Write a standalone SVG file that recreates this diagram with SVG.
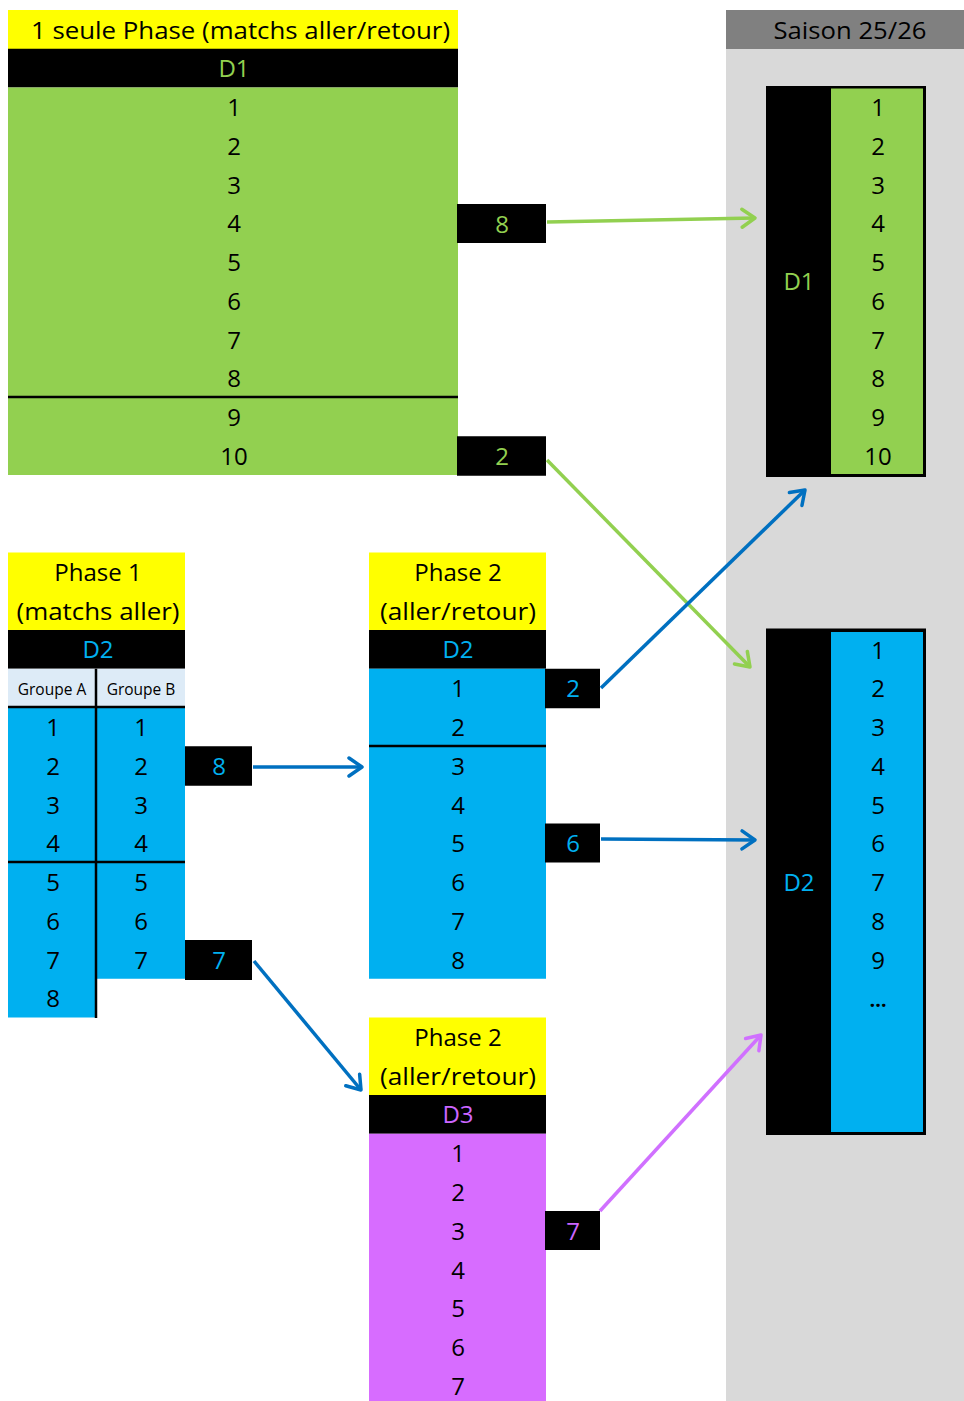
<svg xmlns="http://www.w3.org/2000/svg" width="964" height="1401" viewBox="0 0 964 1401">
<style>
text{font-family:"Open Sans","Noto Sans","Liberation Sans",sans-serif;font-size:24px;text-anchor:middle;fill:#000}
.g{fill:#92D050}.b{fill:#00B0F0}.p{fill:#D76CFF}.y{fill:#FFFF00}.k{fill:#000}
.tg{fill:#92D050}.tb{fill:#00B0F0}.tp{fill:#CC66FF}
.sep{stroke:#000;stroke-width:2.5}
.sm{font-size:15.5px}
.ag{stroke:#92D050}.ab{stroke:#0070C0}.ap{stroke:#D070FF}
.arr line{stroke-width:3.5;fill:none}
</style>
<defs>
<marker id="mg" markerUnits="userSpaceOnUse" markerWidth="30" markerHeight="30" refX="0" refY="0" orient="auto" overflow="visible"><path d="M-13,-9 L0,0 L-13,9" fill="none" stroke="#92D050" stroke-width="3.5" stroke-linecap="round" stroke-linejoin="round"/></marker>
<marker id="mb" markerUnits="userSpaceOnUse" markerWidth="30" markerHeight="30" refX="0" refY="0" orient="auto" overflow="visible"><path d="M-13,-9 L0,0 L-13,9" fill="none" stroke="#0070C0" stroke-width="3.5" stroke-linecap="round" stroke-linejoin="round"/></marker>
<marker id="mp" markerUnits="userSpaceOnUse" markerWidth="30" markerHeight="30" refX="0" refY="0" orient="auto" overflow="visible"><path d="M-13,-9 L0,0 L-13,9" fill="none" stroke="#D070FF" stroke-width="3.5" stroke-linecap="round" stroke-linejoin="round"/></marker>
</defs>
<rect width="964" height="1401" fill="#fff"/>

<!-- Saison column -->
<g id="saison">
<rect x="726" y="10" width="238" height="1391" fill="#D9D9D9"/>
<rect x="726" y="10" width="238" height="39" fill="#808080"/>
<text x="850" y="39" textLength="153" lengthAdjust="spacingAndGlyphs">Saison 25/26</text>
</g>

<!-- Top D1 table -->
<g id="d1-table">
<rect class="y" x="8" y="10" width="450" height="39"/>
<text x="31" y="39" style="text-anchor:start" textLength="419" lengthAdjust="spacingAndGlyphs">1 seule Phase (matchs aller/retour)</text>
<rect class="k" x="8" y="48.75" width="450" height="38.75"/>
<text class="tg" x="234" y="77">D1</text>
<rect class="g" x="8" y="87.5" width="450" height="387.5"/>
<line class="sep" x1="8" y1="397" x2="458" y2="397"/>
<text x="234" y="116">1</text>
<text x="234" y="154.75">2</text>
<text x="234" y="193.5">3</text>
<text x="234" y="232.25">4</text>
<text x="234" y="271">5</text>
<text x="234" y="309.75">6</text>
<text x="234" y="348.5">7</text>
<text x="234" y="387.25">8</text>
<text x="234" y="426">9</text>
<text x="234" y="464.75">10</text>
</g>
<g id="d1-box8"><rect class="k" x="457" y="204" width="89" height="39"/><text class="tg" x="502" y="232.5">8</text></g>
<g id="d1-box2"><rect class="k" x="457" y="436.25" width="89" height="39.5"/><text class="tg" x="502" y="465">2</text></g>

<!-- Right D1 -->
<g id="saison-d1">
<rect class="k" x="766" y="86" width="160" height="391"/>
<rect class="g" x="831" y="88.5" width="92" height="385.5"/>
<text class="tg" x="799" y="289.5">D1</text>
<text x="878" y="116">1</text>
<text x="878" y="154.75">2</text>
<text x="878" y="193.5">3</text>
<text x="878" y="232.25">4</text>
<text x="878" y="271">5</text>
<text x="878" y="309.75">6</text>
<text x="878" y="348.5">7</text>
<text x="878" y="387.25">8</text>
<text x="878" y="426">9</text>
<text x="878" y="464.75">10</text>
</g>

<!-- Right D2 -->
<g id="saison-d2">
<rect class="k" x="766" y="628.5" width="160" height="506.5"/>
<rect class="b" x="831" y="632" width="92" height="500"/>
<text class="tb" x="799" y="890.5">D2</text>
<text x="878" y="658.5">1</text>
<text x="878" y="697.25">2</text>
<text x="878" y="736">3</text>
<text x="878" y="774.75">4</text>
<text x="878" y="813.5">5</text>
<text x="878" y="852.25">6</text>
<text x="878" y="891">7</text>
<text x="878" y="929.75">8</text>
<text x="878" y="968.5">9</text>
<text x="878" y="1007" style="font-size:20px;font-weight:bold">…</text>
</g>

<!-- Phase 1 D2 -->
<g id="phase1">
<rect class="y" x="8" y="552.5" width="177" height="77.5"/>
<text x="98" y="580.5">Phase 1</text>
<text x="98" y="619.5" textLength="163" lengthAdjust="spacingAndGlyphs">(matchs aller)</text>
<rect class="k" x="8" y="630" width="177" height="38.75"/>
<text class="tb" x="98" y="658">D2</text>
<rect x="8" y="668.75" width="177" height="38.75" fill="#DDEBF7"/>
<text class="sm" x="52" y="695">Groupe A</text>
<text class="sm" x="141" y="695">Groupe B</text>
<rect class="b" x="8" y="707.5" width="88" height="310"/>
<rect class="b" x="96" y="707.5" width="89" height="271.25"/>
<line class="sep" x1="8" y1="707" x2="185" y2="707"/>
<line class="sep" x1="8" y1="862" x2="185" y2="862"/>
<line class="sep" x1="96" y1="668.75" x2="96" y2="1018"/>
<text x="53" y="736">1</text><text x="141" y="736">1</text>
<text x="53" y="774.75">2</text><text x="141" y="774.75">2</text>
<text x="53" y="813.5">3</text><text x="141" y="813.5">3</text>
<text x="53" y="852.25">4</text><text x="141" y="852.25">4</text>
<text x="53" y="891">5</text><text x="141" y="891">5</text>
<text x="53" y="929.75">6</text><text x="141" y="929.75">6</text>
<text x="53" y="968.5">7</text><text x="141" y="968.5">7</text>
<text x="53" y="1007.25">8</text>
</g>
<g id="p1-box8"><rect class="k" x="185" y="746.25" width="67" height="39.5"/><text class="tb" x="219" y="775">8</text></g>
<g id="p1-box7"><rect class="k" x="185" y="940" width="67" height="40"/><text class="tb" x="219" y="968.5">7</text></g>

<!-- Phase 2 D2 -->
<g id="phase2-d2">
<rect class="y" x="369" y="552.5" width="177" height="77.5"/>
<text x="458" y="580.5">Phase 2</text>
<text x="458" y="619.5" textLength="156" lengthAdjust="spacingAndGlyphs">(aller/retour)</text>
<rect class="k" x="369" y="630" width="177" height="38.75"/>
<text class="tb" x="458" y="658">D2</text>
<rect class="b" x="369" y="668.75" width="177" height="310"/>
<line class="sep" x1="369" y1="746" x2="546" y2="746"/>
<text x="458" y="697.25">1</text>
<text x="458" y="736">2</text>
<text x="458" y="774.75">3</text>
<text x="458" y="813.5">4</text>
<text x="458" y="852.25">5</text>
<text x="458" y="891">6</text>
<text x="458" y="929.75">7</text>
<text x="458" y="968.5">8</text>
</g>
<g id="p2-box2"><rect class="k" x="545" y="668.75" width="55" height="39.5"/><text class="tb" x="573" y="697.25">2</text></g>
<g id="p2-box6"><rect class="k" x="545" y="823.5" width="55" height="39"/><text class="tb" x="573" y="852.25">6</text></g>

<!-- Phase 2 D3 -->
<g id="phase2-d3">
<rect class="y" x="369" y="1017.5" width="177" height="77.5"/>
<text x="458" y="1045.5">Phase 2</text>
<text x="458" y="1084.5" textLength="156" lengthAdjust="spacingAndGlyphs">(aller/retour)</text>
<rect class="k" x="369" y="1095" width="177" height="38.75"/>
<text class="tp" x="458" y="1123">D3</text>
<rect class="p" x="369" y="1133.75" width="177" height="267.25"/>
<text x="458" y="1162.25">1</text>
<text x="458" y="1201">2</text>
<text x="458" y="1239.75">3</text>
<text x="458" y="1278.5">4</text>
<text x="458" y="1317.25">5</text>
<text x="458" y="1356">6</text>
<text x="458" y="1394.75">7</text>
</g>
<g id="p3-box7"><rect class="k" x="545" y="1211" width="55" height="39"/><text class="tp" x="573" y="1239.75">7</text></g>

<!-- Connectors -->
<g id="connectors" class="arr">
<line class="ag" x1="547" y1="222" x2="755" y2="218" marker-end="url(#mg)"/>
<line class="ag" x1="547" y1="460" x2="750" y2="667" marker-end="url(#mg)"/>
<line class="ab" x1="601" y1="688" x2="805" y2="490" marker-end="url(#mb)"/>
<line class="ab" x1="253" y1="767" x2="362" y2="767" marker-end="url(#mb)"/>
<line class="ab" x1="601" y1="839" x2="755" y2="840" marker-end="url(#mb)"/>
<line class="ab" x1="254" y1="961" x2="361" y2="1090" marker-end="url(#mb)"/>
<line class="ap" x1="600" y1="1211" x2="761" y2="1035" marker-end="url(#mp)"/>
</g>
</svg>
